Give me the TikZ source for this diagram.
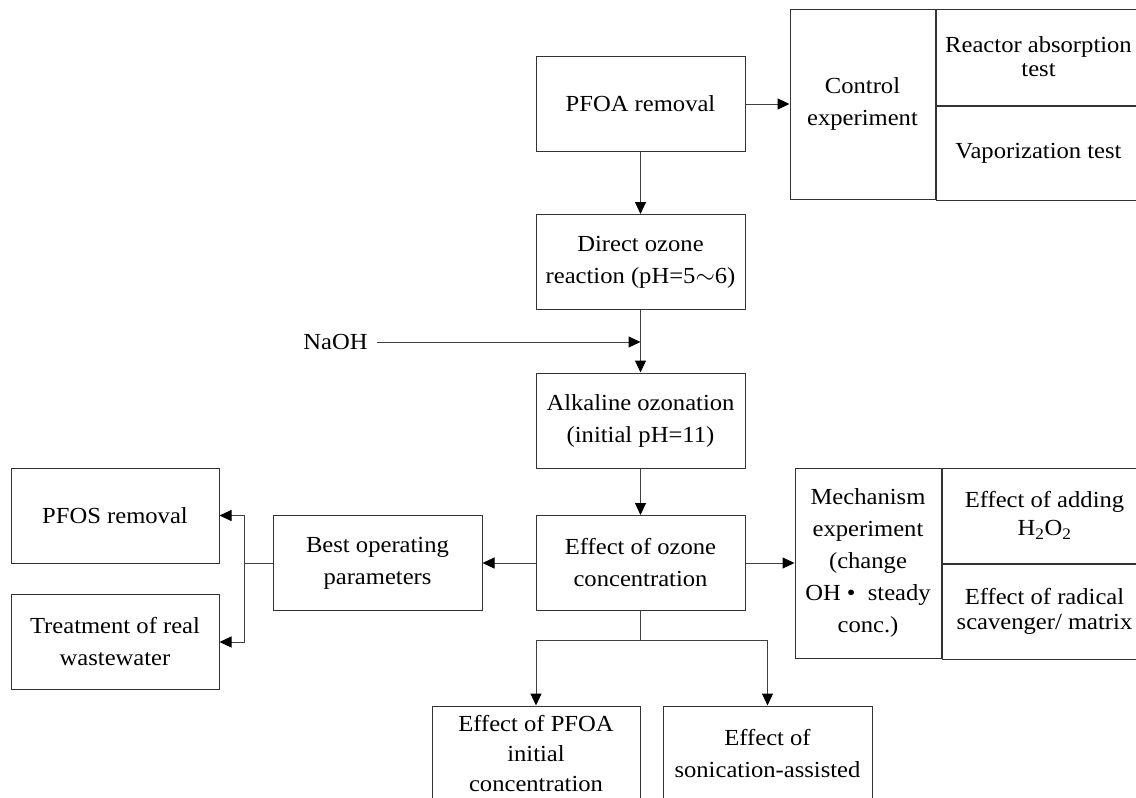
\documentclass[tikz,border=0pt]{standalone}
\usepackage{fontspec}
\setmainfont{Liberation Serif}[FakeStretch=1.07]
\usetikzlibrary{arrows.meta}

\begin{document}
\begin{tikzpicture}[x=1pt,y=-1pt,
    box/.style={draw=black!80,line width=1pt,align=center,inner sep=0pt,
        minimum width=209pt,minimum height=95pt,font=\fontsize{23}{32}\selectfont},
    cell/.style={box,anchor=north west,minimum width=205pt},
    wire/.style={draw=black!75,line width=1pt},
    link/.style={wire,-{Triangle[length=12pt,width=11pt,color=black]}}]

    % white page with the size of the original figure
    \path[use as bounding box,fill=white] (0,0) rectangle (1136,798);

    % main column
    \node[box] (pfoa) at (640.5,104) {PFOA removal};
    \node[box] (direct) at (640.5,262) {Direct ozone\\reaction (pH=5$\sim$6)};
    \node[box] (alkaline) at (640.5,420.5) {Alkaline ozonation\\(initial pH=11)};
    \node[box] (ozone) at (640.5,563) {Effect of ozone\\concentration};

    % left branch
    \node[box] (best) at (377.5,563) {Best operating\\parameters};
    \node[box,minimum width=208pt] (pfos) at (115,515.5) {PFOS removal};
    \node[box,minimum width=208pt] (treat) at (115,642) {Treatment of real\\wastewater};

    % control experiment
    \node[box,minimum width=145pt,minimum height=190pt] (control) at (862.5,104) {Control\\experiment};
    \node[cell,minimum height=96pt,font=\fontsize{23}{24}\selectfont] (reactor) at (control.north east) {Reactor absorption\\test};
    \node[cell,minimum height=94pt] (vapor) at (reactor.south west) {Vaporization test};

    % mechanism experiment
    \node[box,minimum width=146pt,minimum height=190pt] (mech) at (868,563) {Mechanism\\experiment\\(change\\OH\ •\ \ steady\\conc.)};
    \node[cell,font=\fontsize{23}{28}\selectfont] (adding) at (mech.north east) {Effect of adding\\H\textsubscript{2}O\textsubscript{2}};
    \node[cell,font=\fontsize{23}{25}\selectfont] (radical) at (adding.south west) {Effect of radical\\scavenger/ matrix};

    % bottom row (cut by the page)
    \node[box,minimum width=208pt,font=\fontsize{23}{30}\selectfont] (initial) at (536,753.5) {Effect of PFOA\\initial\\concentration};
    \node[box] (sonic) at (767.5,753.5) {Effect of\\sonication-assisted};

    % NaOH feed
    \node[inner xsep=9pt,inner ysep=0pt,font=\fontsize{23}{32}\selectfont] (naoh) at (335.5,342) {NaOH};
    \coordinate (join) at (640.5,342);
    \draw[link] (naoh) -- (join);

    % arrows of the main column
    \draw[link] (pfoa) -- (control);
    \draw[link] (pfoa) -- (direct);
    \draw[link] (direct) -- (alkaline);
    \draw[link] (alkaline) -- (ozone);
    \draw[link] (ozone) -- (best);
    \draw[link] (ozone) -- (mech);

    % best parameters to the applications
    \coordinate (split) at (244,563);
    \draw[wire] (best) -- (split);
    \draw[link] (split) |- (pfos);
    \draw[link] (split) |- (treat);

    % ozone concentration to the bottom tests
    \coordinate (fork) at (640.5,640);
    \draw[wire] (ozone) -- (fork);
    \draw[link] (fork) -| (initial);
    \draw[link] (fork) -| (sonic);

\end{tikzpicture}
\end{document}
